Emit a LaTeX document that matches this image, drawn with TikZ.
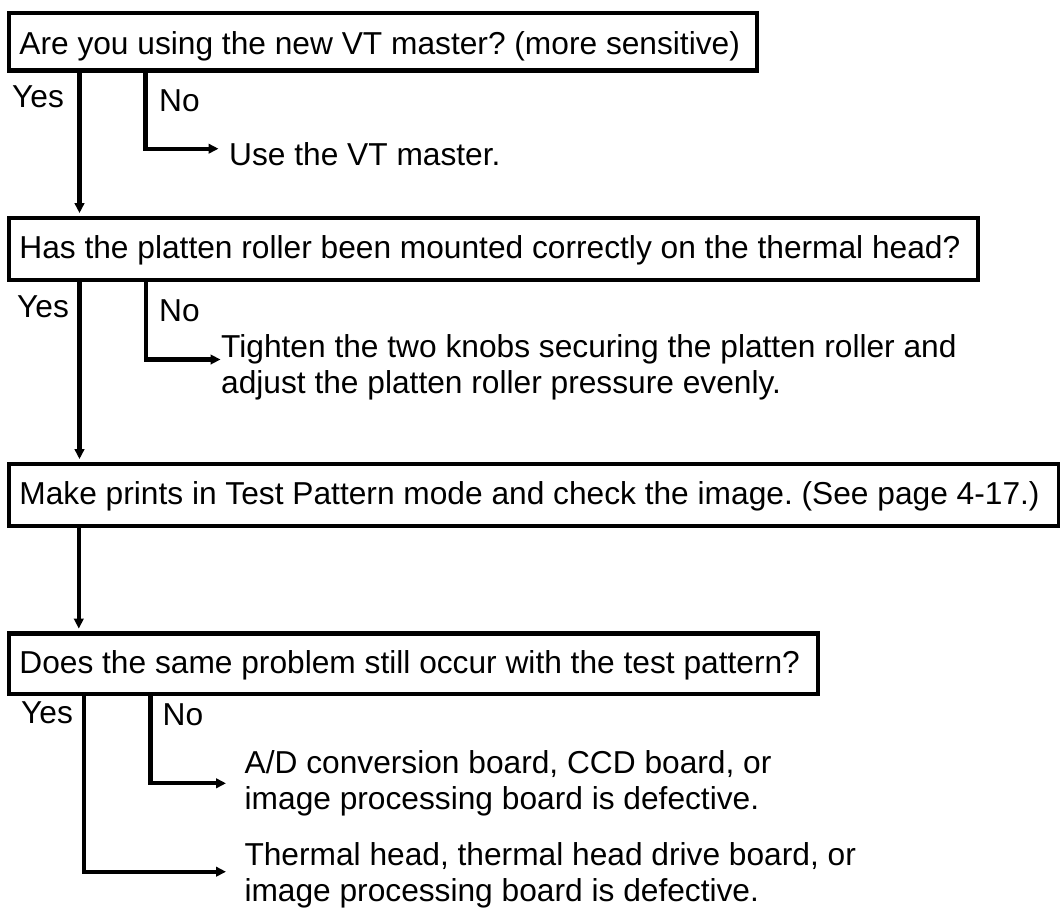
\documentclass[tikz,border=0pt]{standalone}
\usepackage{fontspec}
\setmainfont{Liberation Sans}
\usetikzlibrary{arrows.meta}
\tikzset{
  box/.style={draw=black, line width=4.8pt, rectangle, anchor=north west, inner xsep=10.5pt, inner ysep=0pt,
    text height=22.7pt, text depth=3.3pt},
  lbl/.style={anchor=base west, inner sep=0pt},
  res/.style={anchor=north west, inner sep=0pt, align=left},
  conn/.style={line width=4.2pt, draw=black},
  arr/.style={conn, -{Triangle[length=10pt, width=9.5pt]}},
}
\newcommand{\boxtext}[2]{\makebox[#1][l]{#2}}
\begin{document}
\frenchspacing
\begin{tikzpicture}[x=1pt, y=-1pt, font=\fontsize{31.7}{36.5}\selectfont\frenchspacing]
\useasboundingbox (0,0) rectangle (1060,911);
% boxes
\node[box, minimum height=57.5pt, text height=26pt, text depth=1pt] (b1) at (6.5,10.5)
  {\boxtext{727pt}{Are you using the new VT master? (more sensitive)}};
\node[box, minimum height=62pt] (b2) at (6.5,215.5)
  {\boxtext{948pt}{Has the platten roller been mounted correctly on the thermal head?}};
\node[box, minimum height=62pt] (b3) at (6.5,461.5)
  {\boxtext{1029.5pt}{Make prints in Test Pattern mode and check the image. (See page 4-17.)}};
\node[box, minimum height=60.5pt] (b4) at (6.5,631)
  {\boxtext{788pt}{Does the same problem still occur with the test pattern?}};
% labels
\node[lbl] (y1) at (12,107) {Yes};
\node[lbl] (n1) at (159,111.7) {No};
\node[lbl] (y2) at (17,317) {Yes};
\node[lbl] (n2) at (159,321.7) {No};
\node[lbl] (y4) at (21,723.3) {Yes};
\node[lbl] (n4) at (162.5,725.7) {No};
% results
\node[lbl] (use) at (229,165) {Use the VT master.};
\node[res] (tig) at (221,334.3) {Tighten the two knobs securing the platten roller and\\adjust the platten roller pressure evenly.};
\node[res] (ad) at (244.5,750.3) {A/D conversion board, CCD board, or\\image processing board is defective.};
\node[res] (th) at (244.3,842.3) {Thermal head, thermal head drive board, or\\image processing board is defective.};
% arrow tips
\coordinate (t1) at (218.5,148.7);
\coordinate (t2) at (220.5,359.5);
\coordinate (t3) at (226,783.3);
\coordinate (t4) at (226,871.7);
% connectors
\draw[arr, shorten >=2.4pt] (79.5,0 |- b1.south) -- (79.5,0 |- b2.north);
\draw[arr] (145.5,0 |- b1.south) |- (t1);
\draw[arr, shorten >=2.4pt] (79.5,0 |- b2.south) -- (79.5,0 |- b3.north);
\draw[arr] (146,0 |- b2.south) |- (t2);
\draw[arr, shorten >=2.4pt] (78.8,0 |- b3.south) -- (78.8,0 |- b4.north);
\draw[arr] (150.5,0 |- b4.south) |- (t3);
\draw[arr] (83.8,0 |- b4.south) |- (t4);
\end{tikzpicture}
\end{document}
